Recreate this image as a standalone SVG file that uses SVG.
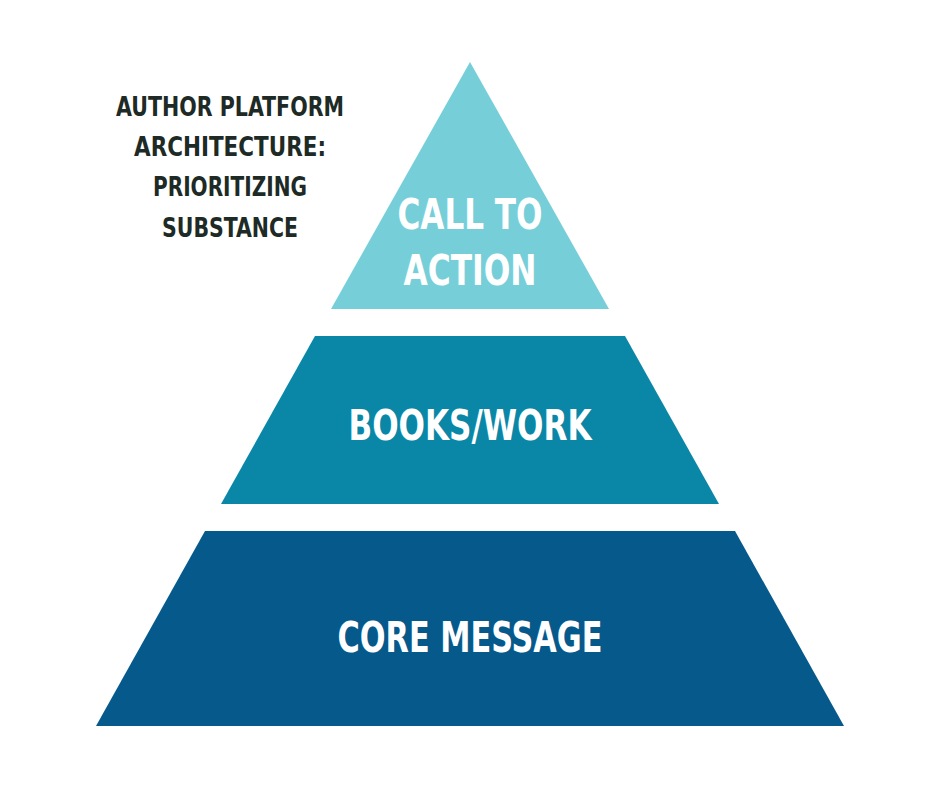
<svg xmlns="http://www.w3.org/2000/svg" width="940" height="788" viewBox="0 0 940 788">
<style>
.t{font-family:"DejaVu Sans Condensed","Liberation Sans Narrow","Liberation Sans",sans-serif;text-anchor:middle}
.title{fill:#1d2a25;font-size:26px;font-weight:bold}
.lbl{fill:#ffffff;font-size:42px;font-weight:600}
</style>
<rect width="940" height="788" fill="#ffffff"/>
<g id="title">
<text class="t title" x="230" y="116" textLength="228" lengthAdjust="spacingAndGlyphs">AUTHOR PLATFORM</text>
<text class="t title" x="230" y="156" textLength="192" lengthAdjust="spacingAndGlyphs">ARCHITECTURE:</text>
<text class="t title" x="230" y="196" textLength="154" lengthAdjust="spacingAndGlyphs">PRIORITIZING</text>
<text class="t title" x="230" y="237" textLength="136" lengthAdjust="spacingAndGlyphs">SUBSTANCE</text>
</g>
<g id="call-to-action">
<polygon points="470,62 609,309 331,309" fill="#76cfd8"/>
<text class="t lbl" x="470" y="229" textLength="145" lengthAdjust="spacingAndGlyphs">CALL TO</text>
<text class="t lbl" x="470" y="285" textLength="133" lengthAdjust="spacingAndGlyphs">ACTION</text>
</g>
<g id="books-work">
<polygon points="315,336 625,336 719,504 221,504" fill="#0a87a7"/>
<text class="t lbl" x="470" y="440" textLength="243" lengthAdjust="spacingAndGlyphs">BOOKS/WORK</text>
</g>
<g id="core-message">
<polygon points="205,531 735,531 844,726 96,726" fill="#06598b"/>
<text class="t lbl" x="470" y="652" textLength="265" lengthAdjust="spacingAndGlyphs">CORE MESSAGE</text>
</g>
<g id="connectors"></g>
</svg>
